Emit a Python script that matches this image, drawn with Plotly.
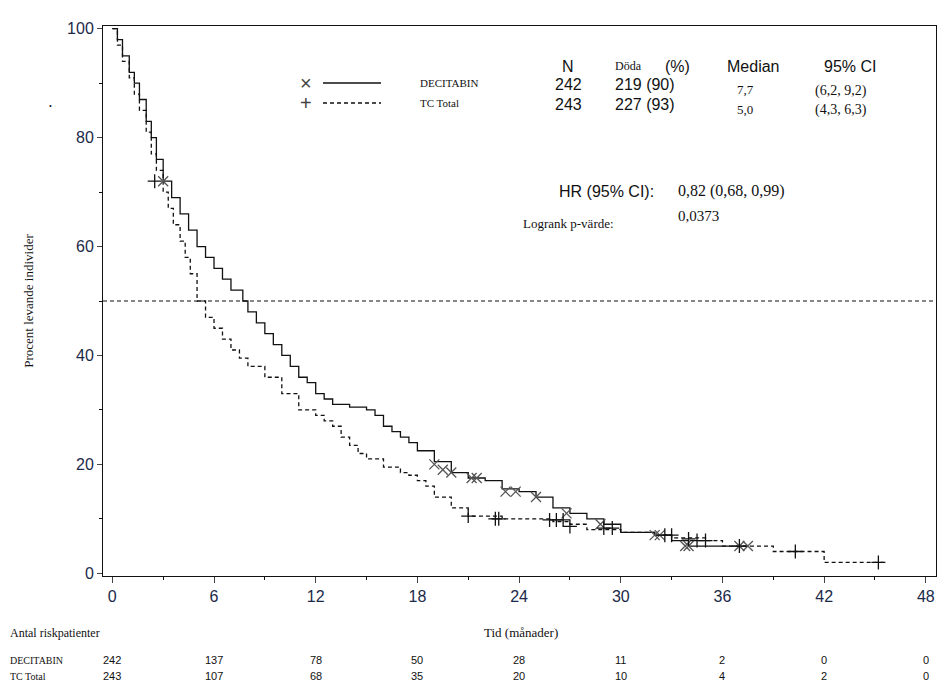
import plotly.graph_objects as go

# Kaplan-Meier steps (time in months, percent surviving)
dec_t = [0, 0.3, 0.6, 1, 1.3, 1.6, 2, 2.3, 2.6, 3, 3.5, 4, 4.5, 5, 5.5, 6, 6.5, 7, 7.7, 8, 8.5, 9, 9.5, 10, 10.5, 11,
         11.5, 12, 12.5, 13, 14, 15, 15.5, 16, 16.5, 17, 17.5, 18, 19, 20, 21, 22, 23, 24, 25, 26, 27, 28, 29, 30,
         32, 33, 34, 36, 37.5]
dec_s = [100, 98, 95, 92, 90, 87, 83, 80, 76, 72, 69, 66, 63, 60, 58, 56, 54, 52, 50, 48, 46, 44, 42, 40, 38, 36,
         35, 33, 32, 31, 30.5, 30, 29, 27, 26, 25, 24, 22.5, 20.5, 18.5, 17.5, 17, 15.5, 15, 14, 12, 11, 10, 9, 7.5,
         7, 6, 5, 5, 5]
tc_t = [0, 0.3, 0.6, 1, 1.3, 1.6, 2, 2.3, 2.6, 3, 3.3, 3.6, 4, 4.3, 4.6, 5, 5.5, 6, 6.5, 7, 7.5, 8, 9, 10, 11, 12,
        12.5, 13, 13.5, 14, 14.5, 15, 16, 17, 17.5, 18, 18.5, 19, 20, 21, 22, 23, 25, 26, 27, 28, 30, 32, 33, 35,
        36, 37, 39, 42, 45.5]
tc_s = [100, 97, 94, 91, 88, 85, 81, 77, 74, 70, 67, 64, 61, 58, 55, 50, 47, 45, 43, 41, 39.5, 38, 36, 33, 30, 29,
        28, 27, 25, 23.5, 22, 21, 19.5, 18.5, 18, 17, 16, 14, 12, 10.5, 10.5, 10, 10, 9.5, 9, 8, 7.5, 7, 6.5, 6,
        5, 5, 4, 2, 2]

dec_cens_t = [3, 19, 19.5, 20, 21.2, 21.5, 23.2, 23.8, 25, 26.8, 28.8, 32, 32.3, 33.8, 34, 37, 37.5]
dec_cens_s = [72, 20, 19, 18.5, 17.5, 17.5, 15, 15, 14, 11, 9, 7, 7, 5, 5, 5, 5]
tc_cens_t = [2.5, 21, 22.6, 22.8, 25.8, 26.2, 26.6, 27, 29, 29.5, 32.6, 33, 34, 34.5, 35, 37, 40.3, 45.2]
tc_cens_s = [72, 10.5, 10, 10, 9.8, 9.8, 9.8, 8.6, 8.3, 8.3, 7, 7, 6.3, 6, 6, 5, 4, 2]

risk_times = [0, 6, 12, 18, 24, 30, 36, 42, 48]
risk_dec = [242, 137, 78, 50, 28, 11, 2, 0, 0]
risk_tc = [243, 107, 68, 35, 20, 10, 4, 2, 0]

serif = "Liberation Serif"
sans = "Liberation Sans"
ink = "#111111"

fig = go.Figure()
fig.add_trace(go.Scatter(x=dec_t, y=dec_s, mode="lines", line=dict(color=ink, width=1.3, shape="hv")))
fig.add_trace(go.Scatter(x=tc_t, y=tc_s, mode="lines", line=dict(color=ink, width=1.3, shape="hv", dash="4px,3px")))
fig.add_trace(go.Scatter(x=dec_cens_t, y=dec_cens_s, mode="markers",
                         marker=dict(symbol="x-thin-open", size=10, color="#555",
                                     line=dict(color="#555", width=1.3))))
fig.add_trace(go.Scatter(x=tc_cens_t, y=tc_cens_s, mode="markers",
                         marker=dict(symbol="cross-thin-open", size=10, color=ink,
                                     line=dict(color=ink, width=1.3))))

fig.add_hline(y=50, line=dict(color=ink, width=1.2, dash="4px,3px"))

def px(x):
    return (x - 95) / 833

def py(y):
    return (568 - y) / 550

anns = []
# legend
for yy, sym, dash, lab in [(75, "×", "solid", "DECITABIN"), (95, "+", "dash", "TC Total")]:
    anns.append(dict(x=px(290), y=py(yy), text=sym, font=dict(family=sans, size=20, color="#444"),
                     showarrow=False, yanchor="middle"))
    anns.append(dict(x=px(410), y=py(yy), text=lab, font=dict(family=serif, size=11, color=ink),
                     showarrow=False, xanchor="left", yanchor="middle"))
    fig.add_shape(type="line", xref="paper", yref="paper", x0=px(315), x1=px(373), y0=py(yy), y1=py(yy),
                  line=dict(color=ink, width=1.3, dash="4px,3px" if dash == "dash" else "solid"))

def t(x, y, s, fam=sans, size=16, anchor="center"):
    anns.append(dict(x=px(x), y=py(y), text=s, showarrow=False, xanchor=anchor, yanchor="middle",
                     font=dict(family=fam, size=size, color=ink)))

t(560, 58, "N")
t(605, 58, "Döda", serif, 12, "left")
t(655, 58, "(%)", sans, 16, "left")
t(745, 58, "Median")
t(842, 58, "95% CI")
t(560, 76, "242"); t(605, 76, "219 (90)", anchor="left")
t(560, 96, "243"); t(605, 96, "227 (93)", anchor="left")
t(737, 82, "7,7", serif, 13); t(833, 83, "(6,2, 9,2)", serif, 14)
t(737, 102, "5,0", serif, 13); t(833, 102, "(4,3, 6,3)", serif, 14)
t(648, 183, "HR (95% CI):", anchor="right")
t(668, 183, "0,82 (0,68, 0,99)", serif, 16, "left")
t(513, 215, "Logrank p-värde:", serif, 13, "left")
t(668, 208, "0,0373", serif, 15, "left")
t(42, 98, "•", serif, 8)

for rt, a, b in zip(risk_times, risk_dec, risk_tc):
    anns.append(dict(x=rt, xref="x", y=py(652), text=str(a), showarrow=False, yanchor="middle",
                     font=dict(family=sans, size=11, color=ink)))
    anns.append(dict(x=rt, xref="x", y=py(668), text=str(b), showarrow=False, yanchor="middle",
                     font=dict(family=sans, size=11, color=ink)))
t(0, 652, "DECITABIN", serif, 10, "left")
t(0, 668, "TC Total", serif, 10, "left")
t(0, 625, "Antal riskpatienter", serif, 12, "left")
t(513, 625, "Tid (månader)", serif, 13)
for a in anns:
    a.setdefault("xref", "paper")
    a["yref"] = "paper"
fig.update_layout(annotations=anns)

fig.update_layout(
    width=945, height=690, showlegend=False,
    margin=dict(l=95, r=17, t=18, b=122),
    plot_bgcolor="white", paper_bgcolor="white",
    font=dict(family=sans, color="#1b2a4a"),
)
fig.update_xaxes(range=[-0.55, 48.6], tickvals=risk_times, ticks="outside", ticklen=6, automargin=False,
                 showgrid=False, zeroline=False, showline=True, linecolor=ink, mirror=True,
                 tickfont=dict(size=16, color="#1b2a4a"),
                 minor=dict(ticks="outside", ticklen=3, dtick=3, tickcolor=ink))
fig.update_yaxes(range=[-0.5, 100.5], tickvals=[0, 20, 40, 60, 80, 100], ticks="outside", ticklen=5,
                 automargin=False,
                 showgrid=False, zeroline=False, showline=True, linecolor=ink, mirror=True,
                 tickfont=dict(size=16, color="#1b2a4a"),
                 minor=dict(ticks="outside", ticklen=3, dtick=10, tickcolor=ink),
                 title=dict(text="Procent levande individer", font=dict(family=serif, size=13, color=ink),
                            standoff=30))
fig.write_html("out.html")
